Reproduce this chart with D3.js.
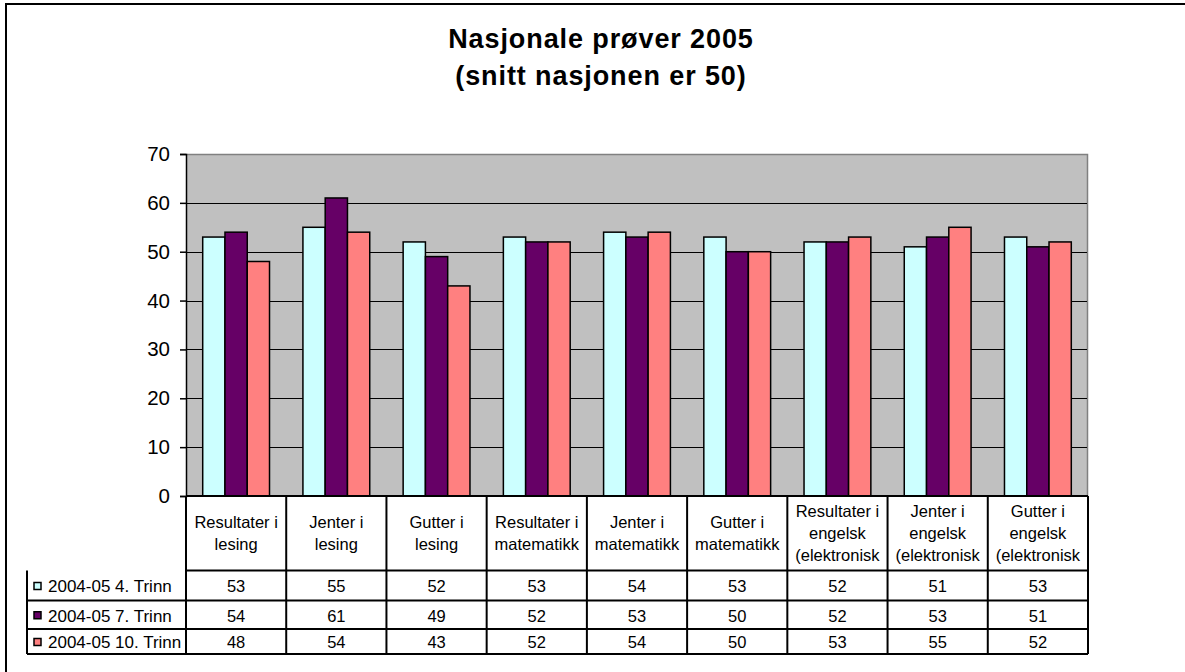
<!DOCTYPE html>
<html>
<head>
<meta charset="utf-8">
<script src="https://cdn.jsdelivr.net/npm/d3@7"></script>
<style>
  body { margin: 0; background: #fff; }
  svg { display: block; font-family: "Liberation Sans", Arial, sans-serif; }
</style>
</head>
<body>
<div id="chart"></div>
<script>
// chart values
const categories = [
    "Resultater i\nlesing",
    "Jenter i\nlesing",
    "Gutter i\nlesing",
    "Resultater i\nmatematikk",
    "Jenter i\nmatematikk",
    "Gutter i\nmatematikk",
    "Resultater i\nengelsk\n(elektronisk",
    "Jenter i\nengelsk\n(elektronisk",
    "Gutter i\nengelsk\n(elektronisk"
];
const seriesNames = ["2004-05 4. Trinn", "2004-05 7. Trinn", "2004-05 10. Trinn"];
const trinn4 = [53, 55, 52, 53, 54, 53, 52, 51, 53];
const trinn7 = [54, 61, 49, 52, 53, 50, 52, 53, 51];
const trinn10 = [48, 54, 43, 52, 54, 50, 53, 55, 52];
const seriesColors = ["#CCFFFF", "#660066", "#FF8080"];
const yTicks = [0, 10, 20, 30, 40, 50, 60, 70];
const titleLines = ["Nasjonale prøver 2005", "(snitt nasjonen er 50)"];

const allSeries = [trinn4, trinn7, trinn10];

const W = 1185, H = 672;
const plot = {left: 186, right: 1088, top: 154, bottom: 496};
const tableLeft = 27;
const rowLines = [496, 570.5, 600.5, 629, 654];

const svg = d3.select("#chart").append("svg")
    .attr("width", W).attr("height", H);

// outer chart frame (runs off the right and bottom edge)
svg.append("rect")
    .attr("x", 6).attr("y", 4)
    .attr("width", W + 20).attr("height", H + 20)
    .attr("fill", "#fff").attr("stroke", "#000").attr("stroke-width", 2);

// title
svg.append("g").selectAll("text").data(titleLines).join("text")
    .attr("x", 601)
    .attr("y", (d, i) => 48 + i * 37)
    .attr("text-anchor", "middle")
    .attr("font-size", 27)
    .attr("font-weight", "bold")
    .attr("letter-spacing", 0.9)
    .text(d => d);

const x0 = d3.scaleBand().domain(d3.range(categories.length))
    .range([plot.left, plot.right]).paddingInner(0).paddingOuter(0);
const x1 = d3.scaleBand().domain(d3.range(allSeries.length))
    .range([0, x0.bandwidth()]).paddingInner(0).paddingOuter(0.75);
const y = d3.scaleLinear().domain([0, 70]).range([plot.bottom, plot.top]);

// plot background
svg.append("rect")
    .attr("x", plot.left).attr("y", plot.top)
    .attr("width", plot.right - plot.left).attr("height", plot.bottom - plot.top)
    .attr("fill", "#C0C0C0");
svg.append("path")
    .attr("d", `M${plot.left},${plot.top + 0.5}H${plot.right - 0.5}V${plot.bottom}`)
    .attr("fill", "none").attr("stroke", "#808080").attr("stroke-width", 1.5);

// gridlines
svg.append("g").selectAll("line").data(yTicks.filter(t => t > 0 && t < 70)).join("line")
    .attr("x1", plot.left).attr("x2", plot.right - 1)
    .attr("y1", d => Math.round(y(d)) + 0.5).attr("y2", d => Math.round(y(d)) + 0.5)
    .attr("stroke", "#000").attr("stroke-width", 1.2);

// bars
const groups = svg.append("g").selectAll("g").data(categories).join("g")
    .attr("transform", (d, i) => `translate(${x0(i)},0)`);
groups.selectAll("rect").data((d, i) => allSeries.map((s, j) => ({j, v: s[i]}))).join("rect")
    .attr("x", d => x1(d.j))
    .attr("y", d => y(d.v))
    .attr("width", x1.bandwidth())
    .attr("height", d => y(0) - y(d.v))
    .attr("fill", d => seriesColors[d.j])
    .attr("stroke", "#000").attr("stroke-width", 1.5);

// y axis
const yAxis = d3.axisLeft(y).tickValues(yTicks).tickSize(6).tickPadding(10);
const ya = svg.append("g").attr("transform", `translate(${plot.left},0)`).call(yAxis);
ya.select(".domain").attr("stroke", "#000").attr("stroke-width", 1.5);
ya.selectAll(".tick line").attr("stroke", "#000").attr("stroke-width", 1.5);
ya.selectAll(".tick text").attr("font-size", 20.5).attr("fill", "#000")
    .attr("font-family", "Liberation Sans, Arial, sans-serif");

// data table
const table = svg.append("g");
// horizontal lines
table.selectAll("line.h").data(rowLines).join("line").attr("class", "h")
    .attr("x1", (d, i) => i < 2 ? plot.left : tableLeft)
    .attr("x2", plot.right)
    .attr("y1", d => d).attr("y2", d => d)
    .attr("stroke", "#000").attr("stroke-width", 2);
// vertical lines
const vx = d3.range(categories.length + 1).map(i => i < categories.length ? x0(i) : plot.right);
table.selectAll("line.v").data(vx).join("line").attr("class", "v")
    .attr("x1", d => d).attr("x2", d => d)
    .attr("y1", rowLines[0]).attr("y2", rowLines[4])
    .attr("stroke", "#000").attr("stroke-width", 2);
table.append("line")
    .attr("x1", tableLeft).attr("x2", tableLeft)
    .attr("y1", rowLines[1]).attr("y2", rowLines[4])
    .attr("stroke", "#000").attr("stroke-width", 2);

// category header labels (clipped to their cells)
const defs = svg.append("defs");
categories.forEach((c, i) => {
    defs.append("clipPath").attr("id", "cell" + i).append("rect")
        .attr("x", x0(i) + 1).attr("y", rowLines[0])
        .attr("width", x0.bandwidth() - 2).attr("height", rowLines[1] - rowLines[0]);
    const lines = c.split("\n");
    const cy = (rowLines[0] + rowLines[1]) / 2;
    const lh = 21.6;
    table.append("g").attr("clip-path", `url(#cell${i})`)
        .selectAll("text").data(lines).join("text")
        .attr("x", x0(i) + x0.bandwidth() / 2)
        .attr("y", (d, k) => cy + (k - (lines.length - 1) / 2) * lh)
        .attr("dy", "0.35em")
        .attr("text-anchor", "middle")
        .attr("font-size", 16.5)
        .text(d => d);
});

// values and legend rows
allSeries.forEach((s, j) => {
    const cy = (rowLines[j + 1] + rowLines[j + 2]) / 2 + 1;
    table.append("g").selectAll("text").data(s).join("text")
        .attr("x", (d, i) => x0(i) + x0.bandwidth() / 2)
        .attr("y", cy).attr("dy", "0.35em")
        .attr("text-anchor", "middle")
        .attr("font-size", 16.5)
        .text(d => d);
    table.append("rect")
        .attr("x", 34).attr("y", cy - 4)
        .attr("width", 7).attr("height", 7)
        .attr("fill", seriesColors[j]).attr("stroke", "#000").attr("stroke-width", 1.5);
    table.append("text")
        .attr("x", 48).attr("y", cy).attr("dy", "0.35em")
        .attr("font-size", 17)
        .text(seriesNames[j]);
});
</script>
</body>
</html>
